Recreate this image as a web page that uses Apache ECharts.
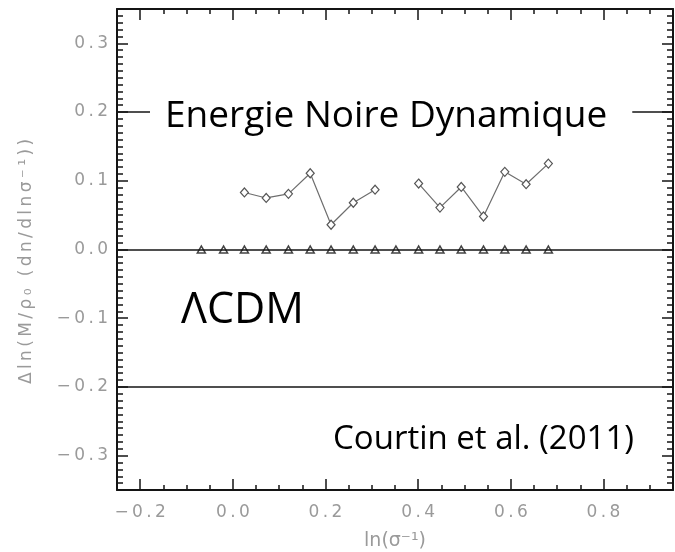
<!DOCTYPE html>
<html>
<head>
<meta charset="utf-8">
<script src="https://cdn.jsdelivr.net/npm/echarts@6/dist/echarts.min.js"></script>
<style>
  html, body { margin: 0; padding: 0; background: #fff; }
  #chart { width: 675px; height: 552px; }
</style>
</head>
<body>
<div id="chart"></div>
<script>
// ln(sigma^-1) bin centres
const sigmaBins = [-0.068, -0.020, 0.025, 0.072, 0.120, 0.167, 0.212, 0.260, 0.307,
                   0.352, 0.401, 0.447, 0.493, 0.541, 0.587, 0.633, 0.681];
// LCDM reference: zero residual in every bin
const lcdmResidual = [0, 0, 0, 0, 0, 0, 0, 0, 0, 0, 0, 0, 0, 0, 0, 0, 0];
// dynamical dark energy residuals (null = empty bin)
const dedBins = [0.025, 0.072, 0.120, 0.167, 0.212, 0.260, 0.307, 0.352,
                 0.401, 0.447, 0.493, 0.541, 0.587, 0.633, 0.681];
const dedResidual = [0.083, 0.075, 0.081, 0.111, 0.036, 0.068, 0.087, null,
                     0.096, 0.061, 0.091, 0.048, 0.113, 0.095, 0.125];
// horizontal reference levels
const refLevels = [0.2, 0, -0.2];
// tick values
const xTickValues = [-0.2, 0.0, 0.2, 0.4, 0.6, 0.8];
const yTickValues = [-0.3, -0.2, -0.1, 0.0, 0.1, 0.2, 0.3];

const X_MIN = -0.25, X_MAX = 0.95, Y_MIN = -0.35, Y_MAX = 0.35;
const INK = '#141414';
const LABEL_GREY = '#9a9a9a';
const GAP = '\u2009'; // widened glyph spacing of the plot font

function spaced(s) { return s.split('').join(GAP); }

function fmt(v) {
  return spaced((v < -1e-9 ? '\u2212' : '') + Math.abs(v).toFixed(1));
}

function majorAxis(pos, isX, withLabels) {
  const vals = isX ? xTickValues : yTickValues;
  return {
    type: 'value', position: pos,
    min: isX ? X_MIN : Y_MIN, max: isX ? X_MAX : Y_MAX,
    axisLine: { show: true, onZero: false, lineStyle: { color: INK, width: 2 } },
    axisTick: { show: true, inside: true, length: 11, customValues: vals,
                lineStyle: { color: INK, width: 1.5 } },
    axisLabel: withLabels
      ? { show: true, customValues: vals, formatter: fmt, color: LABEL_GREY,
          fontFamily: 'DejaVu Sans', fontSize: 17, margin: isX ? 14 : 9 }
      : { show: false },
    splitLine: { show: false }
  };
}

function minorAxis(pos, isX) {
  return {
    type: 'value', position: pos,
    min: isX ? X_MIN : Y_MIN, max: isX ? X_MAX : Y_MAX,
    interval: isX ? 0.05 : 0.01,
    axisLine: { show: false, onZero: false },
    axisTick: { show: true, inside: true, length: isX ? 5 : 6,
                lineStyle: { color: INK, width: 1.5 } },
    axisLabel: { show: false },
    splitLine: { show: false }
  };
}

const xAxes = [
  Object.assign(majorAxis('bottom', true, true), {
    name: 'ln(\u03C3\u207B\u00B9)', nameLocation: 'middle', nameGap: 42,
    nameTextStyle: { color: LABEL_GREY, fontFamily: 'DejaVu Sans', fontSize: 19 }
  }),
  minorAxis('bottom', true),
  majorAxis('top', true, false),
  minorAxis('top', true)
];
const yAxes = [
  Object.assign(majorAxis('left', false, true), {
    name: spaced('\u0394ln(M/\u03C1\u2080 (dn/dln\u03C3\u207B\u00B9))'), nameLocation: 'middle', nameGap: 82,
    nameTextStyle: { color: LABEL_GREY, fontFamily: 'DejaVu Sans', fontSize: 17, padding: [0, 24, 0, 0] }
  }),
  minorAxis('left', false),
  majorAxis('right', false, false),
  minorAxis('right', false)
];

const chart = echarts.init(document.getElementById('chart'), null, { renderer: 'canvas' });
chart.setOption({
  animation: false,
  backgroundColor: '#fff',
  grid: { left: 117, right: 2, top: 9, bottom: 62, containLabel: false, outerBoundsMode: 'none' },
  xAxis: xAxes,
  yAxis: yAxes,
  series: [
    {
      name: 'LCDM', type: 'scatter', xAxisIndex: 0, yAxisIndex: 0,
      data: sigmaBins.map((x, i) => [x, lcdmResidual[i]]),
      symbol: 'triangle', symbolSize: [8, 7],
      itemStyle: { color: '#fff', borderColor: INK, borderWidth: 1.5 },
      z: 4,
      markLine: {
        silent: true, symbol: ['none', 'none'],
        label: { show: false },
        lineStyle: { color: INK, width: 1.5, type: 'solid' },
        data: refLevels.map(v => ({ yAxis: v }))
      }
    },
    {
      name: 'DED', type: 'line', xAxisIndex: 0, yAxisIndex: 0,
      data: dedBins.map((x, i) => [x, dedResidual[i] === null ? '-' : dedResidual[i]]),
      connectNulls: false,
      symbol: 'diamond', symbolSize: [8, 9], showAllSymbol: true,
      lineStyle: { color: '#6e6e6e', width: 1.2 },
      itemStyle: { color: '#fff', borderColor: '#555', borderWidth: 1.2 },
      z: 3
    }
  ],
  graphic: [
    {
      type: 'text', z: 100, x: 150, y: 116,
      style: {
        text: 'Energie Noire Dynamique', fill: '#000',
        font: '37px "Open Sans"', align: 'left', verticalAlign: 'middle',
        backgroundColor: '#fff', padding: [0, 25, 0, 15]
      }
    },
    {
      type: 'text', z: 100, x: 181, y: 311,
      style: { text: '\u039BCDM', fill: '#000', font: '43px "Open Sans"',
               align: 'left', verticalAlign: 'middle' }
    },
    {
      type: 'text', z: 100, x: 634, y: 440,
      style: { text: 'Courtin et al. (2011)', fill: '#000', font: '33px "Open Sans"',
               align: 'right', verticalAlign: 'middle' }
    }
  ]
});
</script>
</body>
</html>
